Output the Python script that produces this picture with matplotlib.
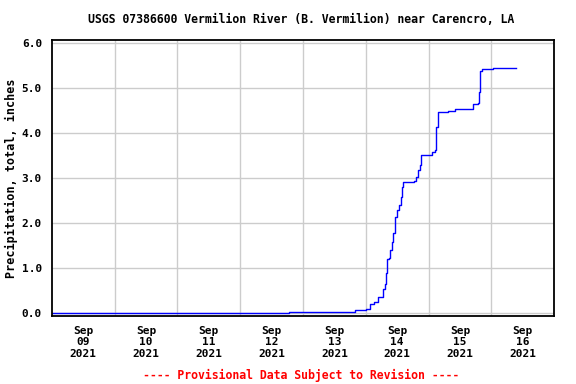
import matplotlib
matplotlib.use("Agg")
import matplotlib.pyplot as plt
import matplotlib.dates as mdates
import pandas as pd

# ----------- datos -----------
tiempos = [
    "2021-09-09 00:00", "2021-09-12 18:45", "2021-09-13 20:00", "2021-09-14 00:15",
    "2021-09-14 01:30", "2021-09-14 03:15", "2021-09-14 04:30", "2021-09-14 06:30",
    "2021-09-14 07:15", "2021-09-14 07:45", "2021-09-14 08:00", "2021-09-14 08:45",
    "2021-09-14 09:15", "2021-09-14 10:00", "2021-09-14 10:30", "2021-09-14 11:00",
    "2021-09-14 11:45", "2021-09-14 12:30", "2021-09-14 13:15", "2021-09-14 13:45",
    "2021-09-14 14:15", "2021-09-14 18:15", "2021-09-14 19:15", "2021-09-14 20:00",
    "2021-09-14 20:45", "2021-09-14 21:00", "2021-09-15 00:45", "2021-09-15 01:15",
    "2021-09-15 02:30", "2021-09-15 02:45", "2021-09-15 03:00", "2021-09-15 03:30",
    "2021-09-15 03:45", "2021-09-15 07:30", "2021-09-15 10:00", "2021-09-15 16:30",
    "2021-09-15 17:00", "2021-09-15 18:45", "2021-09-15 19:15", "2021-09-15 19:45",
    "2021-09-15 20:15", "2021-09-15 22:30", "2021-09-16 00:45", "2021-09-16 09:15",
]
precip = [
    0.00, 0.02, 0.07, 0.08,
    0.19, 0.25, 0.36, 0.54,
    0.65, 0.88, 1.20, 1.22,
    1.40, 1.58, 1.77, 2.14,
    2.29, 2.40, 2.58, 2.81,
    2.92, 2.93, 3.03, 3.18,
    3.29, 3.51, 3.52, 3.59,
    3.62, 3.88, 4.14, 4.37,
    4.48, 4.50, 4.53, 4.54,
    4.66, 4.68, 4.92, 5.39,
    5.42, 5.43, 5.46, 5.46,
]
dias = ["2021-09-09", "2021-09-10", "2021-09-11", "2021-09-12",
        "2021-09-13", "2021-09-14", "2021-09-15", "2021-09-16"]
y_ticks = [0, 1, 2, 3, 4, 5, 6]

t = pd.to_datetime(tiempos)
d = pd.to_datetime(dias)

fuente = "DejaVu Sans Mono"

fig = plt.figure(figsize=(5.76, 3.84), dpi=100)
ax = fig.add_axes([0.0898, 0.177, 0.8725, 0.72])

ax.plot(t, precip, color="#0000ff", linewidth=1.0, drawstyle="steps-post")

ax.set_xlim(d[0], d[-1] + pd.Timedelta(days=1))
ax.set_ylim(-0.073, 6.085)

# ----------- ejes y rejilla -----------
ax.set_xticks(d + pd.Timedelta(hours=12))
ax.set_xticklabels([x.strftime("Sep\n%d\n%Y") for x in d])
ax.set_xticks(d[1:], minor=True)
ax.set_yticks(y_ticks)
ax.set_yticklabels([f"{v:.1f}" for v in y_ticks])

ax.grid(True, which="minor", axis="x", color="#cccccc", linewidth=1.0)
ax.grid(True, which="major", axis="y", color="#cccccc", linewidth=1.0)
ax.set_axisbelow(True)
ax.tick_params(which="both", length=0)
ax.tick_params(axis="x", pad=7)
ax.tick_params(axis="y", pad=7)

for lbl in ax.get_xticklabels() + ax.get_yticklabels():
    lbl.set_fontfamily(fuente)
    lbl.set_fontweight("bold")
    lbl.set_fontsize(8)

for s in ax.spines.values():
    s.set_linewidth(1.3)
    s.set_color("black")

ax.set_ylabel("Precipitation, total, inches", fontfamily=fuente,
              fontweight="bold", fontsize=8.5, labelpad=3)

fig.text(0.523, 0.948, "USGS 07386600 Vermilion River (B. Vermilion) near Carencro, LA",
         ha="center", va="center", fontfamily=fuente, fontweight="bold", fontsize=8.3)
fig.text(0.523, 0.023, "---- Provisional Data Subject to Revision ----",
         ha="center", va="center", fontfamily=fuente, fontweight="bold",
         fontsize=8.3, color="red")

fig.savefig("out.png", dpi=100)
